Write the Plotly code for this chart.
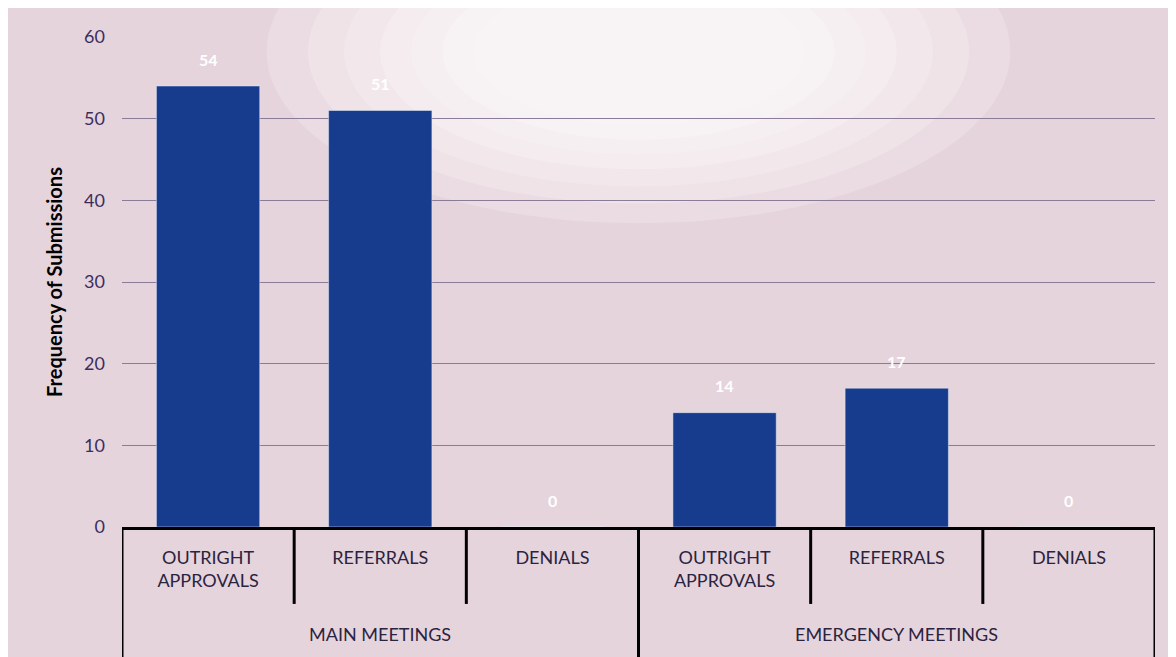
import plotly.graph_objs as go

# data
meeting_groups = ['MAIN MEETINGS', 'EMERGENCY MEETINGS']
decision_types = ['OUTRIGHT<br>APPROVALS', 'REFERRALS', 'DENIALS']
main_counts = [54, 51, 0]
emergency_counts = [14, 17, 0]

counts = main_counts + emergency_counts
tick_text = decision_types + decision_types
positions = list(range(len(counts)))

bar_color = '#173c8e'
bg_color = '#e6d4dc'
text_color = '#2b2340'
font_family = 'Lato, Open Sans, sans-serif'

fig = go.Figure()
fig.add_trace(go.Bar(x = positions, y = counts, marker_color = bar_color, width = 0.6,
	hoverinfo = 'x+y', showlegend = False))

# white value labels floating above each bar
for p, c in zip(positions, counts):
	fig.add_annotation(x = p, y = c, text = '<b>' + str(c) + '</b>', showarrow = False,
		yshift = 27, font = dict(color = 'white', size = 16, family = font_family))

# group labels under the category labels
for i, g in enumerate(meeting_groups):
	fig.add_annotation(x = i * 3 + 1, y = -0.245, xref = 'x', yref = 'paper', text = g,
		showarrow = False, font = dict(color = text_color, size = 18, family = font_family))

# box dividers of the two-level category axis
for i in range(len(counts) + 1):
	edge = i - 0.5
	bottom = -0.27 if i % 3 == 0 else -0.157
	fig.add_shape(type = 'line', xref = 'x', yref = 'paper', x0 = edge, x1 = edge, y0 = 0, y1 = bottom,
		line = dict(color = 'black', width = 3))

# soft photographic glow near the top
for w, h in [(0.72, 0.7), (0.64, 0.62), (0.57, 0.55), (0.5, 0.48), (0.44, 0.42), (0.38, 0.36), (0.32, 0.3)]:
	cx, cy = 0.5, 0.97
	fig.add_shape(type = 'circle', xref = 'paper', yref = 'paper', layer = 'below',
		x0 = cx - w / 2, x1 = cx + w / 2, y0 = cy - h / 2, y1 = cy + h / 2,
		fillcolor = 'white', opacity = 0.2, line_width = 0)

# page has an 8px body margin, so the figure is shrunk to fit the window
fig.update_layout(
	width = 1168, height = 649,
	margin = dict(l = 114, r = 21, t = 29, b = 130),
	paper_bgcolor = bg_color, plot_bgcolor = 'rgba(0,0,0,0)',
	font = dict(family = font_family, color = text_color),
	bargap = 0.4,
)
fig.update_xaxes(range = [-0.5, 5.5], tickvals = positions, ticktext = tick_text,
	tickfont = dict(size = 18, color = text_color), showgrid = False, zeroline = False,
	showline = True, linecolor = 'black', linewidth = 3, ticks = '', ticklabelstandoff = 12,
	fixedrange = True)
fig.update_yaxes(range = [0, 60], dtick = 10, showgrid = True, gridcolor = '#8a7b96', gridwidth = 1.3,
	zeroline = False, showline = False, ticks = '', ticklabelstandoff = 16,
	tickfont = dict(size = 18, color = '#3a2e5e'),
	title = dict(text = '<b>Frequency of Submissions</b>', font = dict(size = 20, color = 'black'), standoff = 16),
	fixedrange = True)

fig.write_html("out.html")
